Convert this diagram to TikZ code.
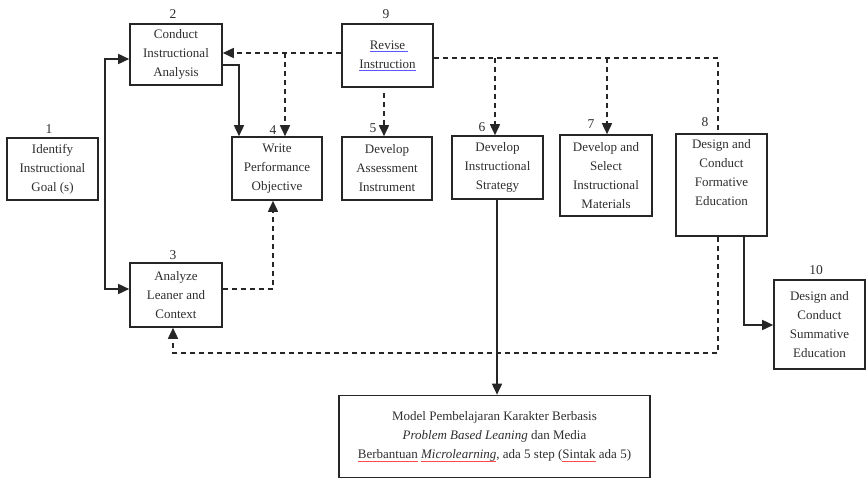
\documentclass[tikz,border=0pt]{standalone}
\usepackage{fontspec}
\setmainfont{Liberation Serif}
\usetikzlibrary{arrows.meta}
\newlength\ulwd
\newcommand\myul[2]{\settowidth\ulwd{#2}\leavevmode\rlap{\color{#1}\rule[-2.6pt]{\ulwd}{0.6pt}}#2}
\begin{document}
\begin{tikzpicture}[x=1pt,y=-1pt,
  box/.style={draw=black!85, line width=1.6pt, align=center, inner sep=0pt,
    font=\fontsize{13}{19}\selectfont, text=black!82},
  num/.style={inner sep=0pt, font=\fontsize{13.5}{15}\selectfont, text=black!82},
  con/.style={draw=black!85, line width=1.6pt},
  arr/.style={con, -{Triangle[length=11pt,width=10pt]}},
  dsh/.style={dash pattern=on 5pt off 4pt}]
\useasboundingbox (0,0) rectangle (867,479);

% boxes
\node[box, minimum width=91, minimum height=62] (b1) at (52.5,169) {Identify\\Instructional\\Goal (s)};
\node[box, minimum width=92, minimum height=61] (b2) at (176,54.5) {Conduct\\Instructional\\Analysis};
\node[box, minimum width=92, minimum height=64] (b3) at (176,295) {Analyze\\Leaner and\\Context};
\node[box, minimum width=90, minimum height=63] (b4) at (277,168.5) {Write\\Performance\\Objective};
\node[box, minimum width=90, minimum height=63] (b5) at (387,168.5) {Develop\\Assessment\\Instrument};
\node[box, minimum width=91, minimum height=63] (b6) at (497.5,167.5) {Develop\\Instructional\\Strategy};
\node[box, minimum width=92, minimum height=81] (b7) at (606,175.5) {Develop and\\Select\\Instructional\\Materials};
\node[box, minimum width=91, minimum height=102] (b8) at (721.5,185) {Design and\\Conduct\\Formative\\Education\\\strut};
\node[box, minimum width=91, minimum height=63] (b9) at (387.5,55.5) {\myul{blue!65}{Revise }\\\myul{blue!65}{Instruction}};
\node[box, minimum width=91, minimum height=89] (b10) at (819.5,324.5) {Design and\\Conduct\\Summative\\Education};
\node[box, minimum width=311, minimum height=82] (bm) at (494.5,436.5) {Model Pembelajaran Karakter Berbasis\\\textit{Problem Based Leaning} dan Media\\\myul{red!70}{Berbantuan} \myul{red!70}{\textit{Microlearning}}, ada 5 step (\myul{red!70}{Sintak} ada 5)};

% numbers
\node[num] (n1) at (49,129) {1};
\node[num] (n2) at (173,14) {2};
\node[num] (n3) at (173,255) {3};
\node[num] (n4) at (273,130) {4};
\node[num] (n5) at (373,128) {5};
\node[num] (n6) at (482,127) {6};
\node[num] (n7) at (591,124) {7};
\node[num] (n8) at (705,122) {8};
\node[num] (n9) at (386,14) {9};
\node[num] (n10) at (816,270) {10};

% junction coordinates
\coordinate (j1) at (105,59);
\coordinate (j2) at (105,289);
\coordinate (k1) at (239,65);
\coordinate (d1) at (285,53);
\coordinate (e1) at (718,58);
\coordinate (e6) at (495,58);
\coordinate (e7) at (607,58);
\coordinate (f1) at (718,353);
\coordinate (f2) at (173,353);
\coordinate (g1) at (744,325);
\coordinate (h1) at (273,289);
\coordinate (m1) at (384,93);
\coordinate (s6) at (497,199);

% solid connectors
\draw[con, {Triangle[length=11pt,width=10pt]}-{Triangle[length=11pt,width=10pt]}]
  (b2.west|-j1) -- (j1) -- (j2) -- (b3.west|-j2);
\draw[arr] (b2.east|-k1) -- (k1) -- (k1|-b4.north);
\draw[arr] (s6|-b6.south) -- (s6|-bm.north);
\draw[arr] (g1|-b8.south) -- (g1) -- (b10.west|-g1);

% dashed connectors
\draw[arr, dsh] (b9.west|-d1) -- (b2.east|-d1);
\draw[arr, dsh] (d1) -- (d1|-b4.north);
\draw[arr, dsh] (m1) -- (m1|-b5.north);
\draw[con, dsh] (b9.east|-e1) -- (e1) -- (e1|-b8.north);
\draw[arr, dsh] (e6) -- (e6|-b6.north);
\draw[arr, dsh] (e7) -- (e7|-b7.north);
\draw[arr, dsh] (f1|-b8.south) -- (f1) -- (f2) -- (f2|-b3.south);
\draw[arr, dsh] (b3.east|-h1) -- (h1) -- (h1|-b4.south);
\end{tikzpicture}
\end{document}
